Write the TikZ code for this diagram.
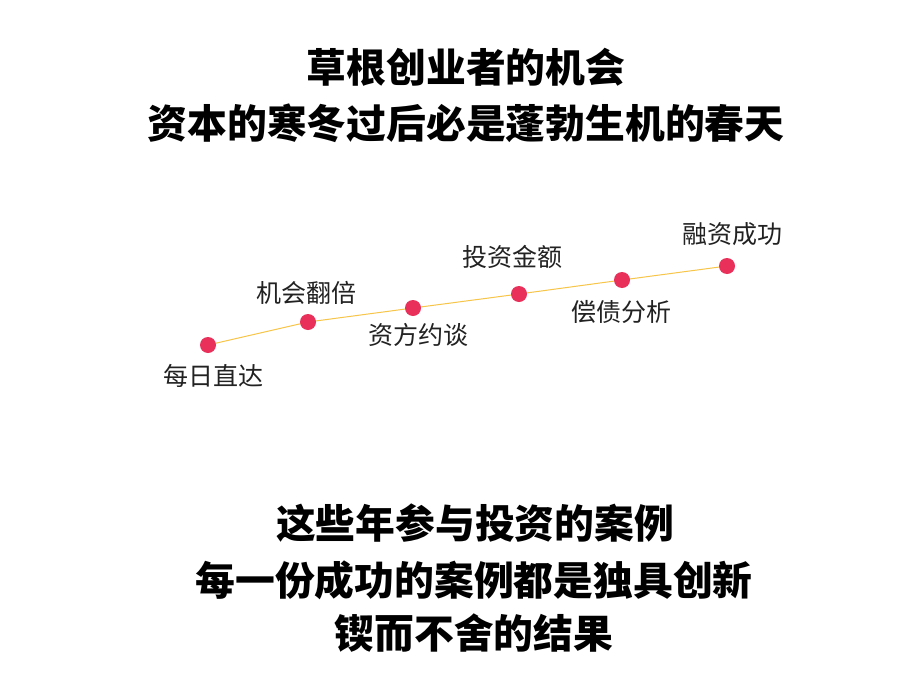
\documentclass[tikz,border=0pt]{standalone}
\usepackage{fontspec}
\setmainfont{Noto Sans CJK SC}
\newfontfamily\cjk{Noto Sans CJK SC}
\definecolor{dotred}{HTML}{E8305A}
\definecolor{lineyellow}{HTML}{F7C548}
\definecolor{labelgray}{HTML}{222222}
\begin{document}
\begin{tikzpicture}[x=1pt,y=-1pt,
  title/.style={font=\cjk\bfseries\fontsize{39.8}{40}\selectfont, text=black, inner sep=0pt},
  lbl/.style={font=\cjk\fontsize{25}{25}\selectfont, text=labelgray, inner sep=0pt},
  dot/.style={circle, fill=dotred, minimum size=16pt, inner sep=0pt},
  conn/.style={lineyellow, line width=1pt}]
\useasboundingbox[fill=white] (0,0) rectangle (910,696);
% titles
\node[title] (t1) at (466,67) {草根创业者的机会};
\node[title] (t2) at (466,123) {资本的寒冬过后必是蓬勃生机的春天};
\node[title] (b1) at (475,523) {这些年参与投资的案例};
\node[title] (b2) at (474,580) {每一份成功的案例都是独具创新};
\node[title] (b3) at (474,633) {锲而不舍的结果};
% timeline points
\coordinate (p1) at (208,345);
\coordinate (p2) at (308,322);
\coordinate (p3) at (413,308);
\coordinate (p4) at (519,294);
\coordinate (p5) at (622,280);
\coordinate (p6) at (727,266);
\draw[conn] (p1) -- (p2) -- (p3) -- (p4) -- (p5) -- (p6);
\node[dot] (d1) at (p1) {};
\node[dot] (d2) at (p2) {};
\node[dot] (d3) at (p3) {};
\node[dot] (d4) at (p4) {};
\node[dot] (d5) at (p5) {};
\node[dot] (d6) at (p6) {};
% labels
\node[lbl] (l1) at (213,376) {每日直达};
\node[lbl] (l2) at (306,293) {机会翻倍};
\node[lbl] (l3) at (418,335) {资方约谈};
\node[lbl] (l4) at (512,257) {投资金额};
\node[lbl] (l5) at (621,312) {偿债分析};
\node[lbl] (l6) at (732,234) {融资成功};
\end{tikzpicture}
\end{document}
